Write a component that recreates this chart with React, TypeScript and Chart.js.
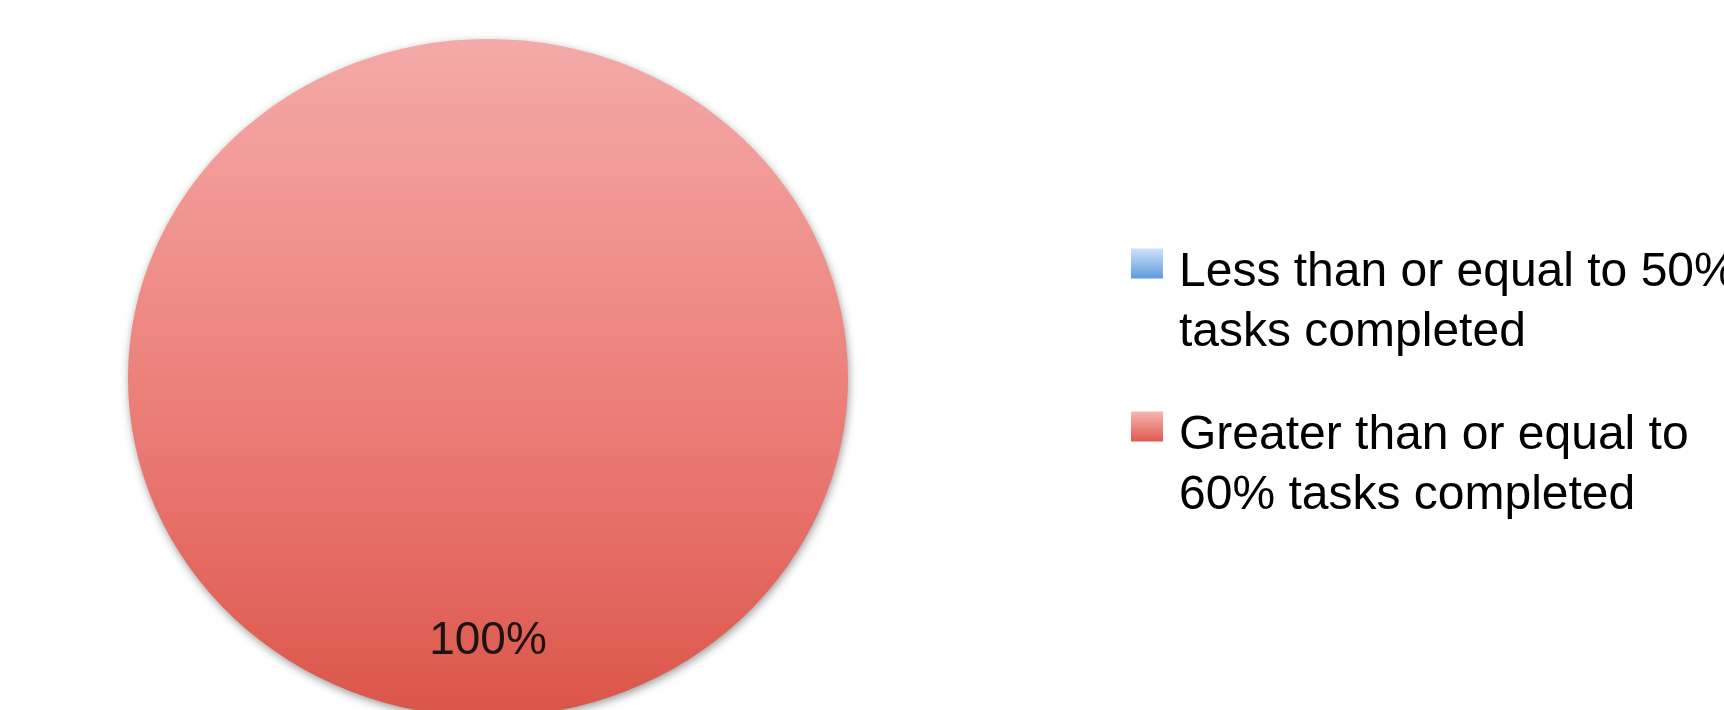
import React, { useEffect, useRef } from "react";
import { Chart, registerables } from "chart.js";

Chart.register(...registerables);

// ---- data ----
const categories: string[][] = [
  ["Less than or equal to 50%", "tasks completed"],
  ["Greater than or equal to", "60% tasks completed"],
];
const values: number[] = [0, 100];

// ---- styles ----
const legendGradients: [string, string][] = [
  ["#cfe2fb", "#5f9bdc"],
  ["#f6b7b4", "#e0584d"],
];
const blueSlice = "#5b8fd6";
const gradientStops: [number, string][] = [
  [0, "#f4aaa8"],
  [0.37, "#ef8c87"],
  [0.64, "#e97670"],
  [1, "#db5549"],
];
const SQUASH = 0.9417; // vertical/horizontal ratio of the pie
const LABEL_POS = 0.776;
const SWATCH = { dx: 8, dy: 0, w: 32, h: 30 };

const CANVAS_W = 1828;
const CANVAS_H = 720;
const CANVAS_LEFT = -104;
const CANVAS_TOP = 18;

const piePlugin = {
  id: "pieLook",
  beforeDatasetsDraw(chart: any) {
    const ctx = chart.ctx as CanvasRenderingContext2D;
    const arc = chart.getDatasetMeta(0).data[0] as any;
    const x = arc.x;
    const y = arc.y;
    ctx.save();
    ctx.translate(x, y);
    ctx.scale(1, SQUASH);
    ctx.translate(-x, -y);
    ctx.shadowColor = "rgba(0,0,0,0.38)";
    ctx.shadowBlur = 8;
    ctx.shadowOffsetX = 1;
    ctx.shadowOffsetY = 3;
  },
  afterDatasetsDraw(chart: any) {
    const ctx = chart.ctx as CanvasRenderingContext2D;
    ctx.restore();
    const meta = chart.getDatasetMeta(0);
    const data = chart.data.datasets[0].data as number[];
    const total = data.reduce((a, b) => a + b, 0);
    meta.data.forEach((el: any, i: number) => {
      const v = data[i];
      if (!v) return;
      const mid = (el.startAngle + el.endAngle) / 2;
      const px = el.x + Math.cos(mid) * el.outerRadius * LABEL_POS;
      const py = el.y + Math.sin(mid) * el.outerRadius * LABEL_POS * SQUASH;
      ctx.save();
      ctx.font = "46px 'Liberation Sans'";
      ctx.fillStyle = "#1e1212";
      ctx.textAlign = "center";
      ctx.textBaseline = "middle";
      ctx.fillText(Math.round((v / total) * 100) + "%", px, py);
      ctx.restore();
    });
  },
  afterDraw(chart: any) {
    const legend = chart.legend;
    if (!legend || !legend.legendHitBoxes) return;
    const ctx = chart.ctx as CanvasRenderingContext2D;
    legend.legendHitBoxes.forEach((hb: any, i: number) => {
      const x = hb.left + SWATCH.dx;
      const y = hb.top + SWATCH.dy;
      const g = ctx.createLinearGradient(0, y, 0, y + SWATCH.h);
      g.addColorStop(0, legendGradients[i][0]);
      g.addColorStop(1, legendGradients[i][1]);
      ctx.save();
      ctx.fillStyle = g;
      ctx.fillRect(x, y, SWATCH.w, SWATCH.h);
      ctx.restore();
    });
  },
};

export default function App() {
  const ref = useRef<HTMLCanvasElement>(null);

  useEffect(() => {
    if (!ref.current) return;
    const chart = new Chart(ref.current, {
      type: "pie",
      data: {
        labels: categories as any,
        datasets: [
          {
            data: values,
            borderWidth: 0,
            clip: false as any,
            backgroundColor: (c: any) => {
              if (c.dataIndex === 0) return blueSlice;
              const a = c.chart.chartArea;
              if (!a) return legendGradients[1][1];
              const cy = (a.top + a.bottom) / 2;
              const r = Math.min(a.right - a.left, a.bottom - a.top) / 2;
              const g = c.chart.ctx.createLinearGradient(0, cy - r, 0, cy + r);
              gradientStops.forEach(([o, col]) => g.addColorStop(o, col));
              return g;
            },
          },
        ],
      },
      options: {
        responsive: false,
        animation: false,
        events: [],
        layout: { padding: 0 },
        plugins: {
          tooltip: { enabled: false },
          legend: {
            display: true,
            position: "right",
            align: "center",
            maxWidth: 644,
            title: {
              display: true,
              text: "",
              font: { size: 12, lineHeight: 1 },
              padding: 6,
            },
            labels: {
              boxWidth: 32,
              boxHeight: 30,
              padding: 43,
              color: "#000",
              font: { family: "'Liberation Sans'", size: 48, lineHeight: 1.25 },
              generateLabels: () =>
                categories.map((text, i) => ({
                  text: text as any,
                  fillStyle: "rgba(0,0,0,0)",
                  strokeStyle: "rgba(0,0,0,0)",
                  lineWidth: 0,
                  hidden: false,
                  index: i,
                  fontColor: "#000",
                })) as any,
            },
          },
        },
      },
      plugins: [piePlugin as any],
    });
    return () => chart.destroy();
  }, []);

  return (
    <div
      style={{
        position: "fixed",
        left: 0,
        top: 0,
        width: 1724,
        height: 710,
        overflow: "hidden",
        background: "#fff",
      }}
    >
      <canvas
        ref={ref}
        width={CANVAS_W}
        height={CANVAS_H}
        style={{
          position: "absolute",
          left: CANVAS_LEFT,
          top: CANVAS_TOP,
          width: CANVAS_W,
          height: CANVAS_H,
        }}
      />
    </div>
  );
}
